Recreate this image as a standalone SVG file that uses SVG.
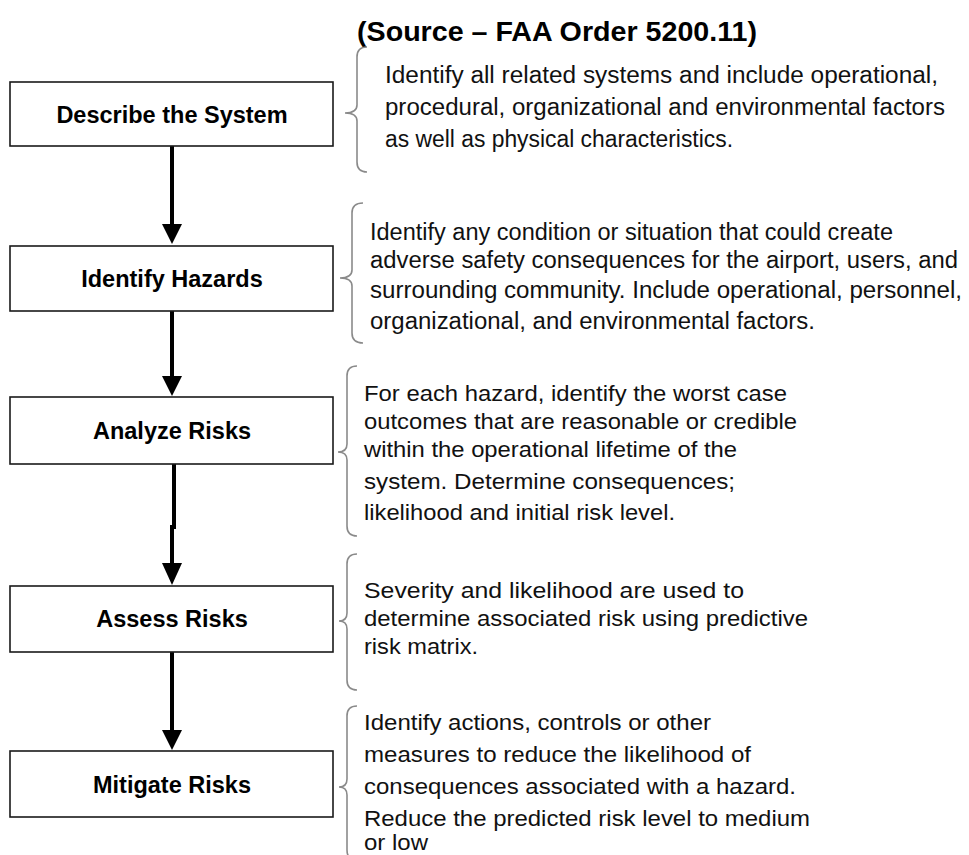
<svg xmlns="http://www.w3.org/2000/svg" width="969" height="855" viewBox="0 0 969 855">
  <style>
    .box { fill: #ffffff; stroke: #1a1a1a; stroke-width: 1.6; }
    .label { font-family: "Liberation Sans", Arial, sans-serif; font-weight: bold; font-size: 23.5px; fill: #000; text-anchor: middle; }
    .desc { font-family: "Liberation Sans", Arial, sans-serif; font-size: 22px; fill: #111; }
    .tall { font-size: 23px; }
    .brace { fill: none; stroke: #8a8a8a; stroke-width: 1.6; }
    .flow { fill: none; stroke: #000; stroke-width: 4; }
    .title { font-family: "Liberation Sans", Arial, sans-serif; font-weight: bold; font-size: 27px; fill: #000; }
  </style>

  <rect width="969" height="855" fill="#ffffff"/>

  <text class="title" x="357" y="41" textLength="400" lengthAdjust="spacingAndGlyphs">(Source – FAA Order 5200.11)</text>

  <!-- connectors between steps -->
  <g id="connectors">
    <path class="flow" d="M172,146 L172,226"/>
    <polygon points="162,224 182,224 172,244" fill="#000"/>
    <path class="flow" d="M172,311 L172,378"/>
    <polygon points="162,376 182,376 172,396" fill="#000"/>
    <path class="flow" d="M174,464 L174,527 L172,527 L172,565"/>
    <polygon points="162,563 182,563 172,585" fill="#000"/>
    <path class="flow" d="M172,652 L172,732"/>
    <polygon points="162,730 182,730 172,750" fill="#000"/>
  </g>

  <g id="describe-system">
    <rect class="box" x="10" y="82" width="323" height="64"/>
    <text class="label" x="172" y="123">Describe the System</text>
    <path class="brace" d="M367,47 Q357,47 357,57 L357,105 Q357,113 345,113 Q357,113 357,121 L357,162 Q357,172 367,172"/>
    <text class="desc tall">
      <tspan x="385" y="83" textLength="553" lengthAdjust="spacingAndGlyphs">Identify all related systems and include operational,</tspan>
      <tspan x="385" y="115" textLength="560" lengthAdjust="spacingAndGlyphs">procedural, organizational and environmental factors</tspan>
      <tspan x="385" y="147" textLength="348" lengthAdjust="spacingAndGlyphs">as well as physical characteristics.</tspan>
    </text>
  </g>

  <g id="identify-hazards">
    <rect class="box" x="10" y="246" width="323" height="65"/>
    <text class="label" x="172" y="287">Identify Hazards</text>
    <path class="brace" d="M363,203 Q352,203 352,213 L352,270 Q352,278 340,278 Q352,278 352,286 L352,333 Q352,343 363,343"/>
    <text class="desc tall">
      <tspan x="370" y="240" textLength="523" lengthAdjust="spacingAndGlyphs">Identify any condition or situation that could create</tspan>
      <tspan x="370" y="268" textLength="588" lengthAdjust="spacingAndGlyphs">adverse safety consequences for the airport, users, and</tspan>
      <tspan x="370" y="298" textLength="592" lengthAdjust="spacingAndGlyphs">surrounding community.  Include operational, personnel,</tspan>
      <tspan x="370" y="329" textLength="445" lengthAdjust="spacingAndGlyphs">organizational, and environmental factors.</tspan>
    </text>
  </g>

  <g id="analyze-risks">
    <rect class="box" x="10" y="397" width="323" height="67"/>
    <text class="label" x="172" y="439">Analyze Risks</text>
    <path class="brace" d="M357,366 Q347,366 347,376 L347,444 Q347,452 338,452 Q347,452 347,460 L347,526 Q347,536 357,536"/>
    <text class="desc">
      <tspan x="364" y="401" textLength="423" lengthAdjust="spacingAndGlyphs">For each hazard, identify the worst case</tspan>
      <tspan x="364" y="429" textLength="433" lengthAdjust="spacingAndGlyphs">outcomes that are reasonable or credible</tspan>
      <tspan x="364" y="457" textLength="373" lengthAdjust="spacingAndGlyphs">within the operational lifetime of the</tspan>
      <tspan x="364" y="489" textLength="371" lengthAdjust="spacingAndGlyphs">system.  Determine consequences;</tspan>
      <tspan x="364" y="520" textLength="311" lengthAdjust="spacingAndGlyphs">likelihood and initial risk level.</tspan>
    </text>
  </g>

  <g id="assess-risks">
    <rect class="box" x="10" y="586" width="323" height="66"/>
    <text class="label" x="172" y="627">Assess Risks</text>
    <path class="brace" d="M357,554 Q347,554 347,564 L347,613 Q347,621 339,621 Q347,621 347,629 L347,680 Q347,690 357,690"/>
    <text class="desc">
      <tspan x="364" y="598" textLength="380" lengthAdjust="spacingAndGlyphs">Severity and likelihood are used to</tspan>
      <tspan x="364" y="626" textLength="444" lengthAdjust="spacingAndGlyphs">determine associated risk using predictive</tspan>
      <tspan x="364" y="654" textLength="114" lengthAdjust="spacingAndGlyphs">risk matrix.</tspan>
    </text>
  </g>

  <g id="mitigate-risks">
    <rect class="box" x="10" y="751" width="323" height="66"/>
    <text class="label" x="172" y="793">Mitigate Risks</text>
    <path class="brace" d="M357,706 Q347,706 347,716 L347,779 Q347,787 339,787 Q347,787 347,795 L347,850 Q347,860 357,860"/>
    <text class="desc">
      <tspan x="364" y="730" textLength="347" lengthAdjust="spacingAndGlyphs">Identify actions, controls or other</tspan>
      <tspan x="364" y="762" textLength="387" lengthAdjust="spacingAndGlyphs">measures to reduce the likelihood of</tspan>
      <tspan x="364" y="794" textLength="432" lengthAdjust="spacingAndGlyphs">consequences associated with a hazard.</tspan>
      <tspan x="364" y="826" textLength="446" lengthAdjust="spacingAndGlyphs">Reduce the predicted risk level to medium</tspan>
      <tspan x="364" y="850" textLength="64" lengthAdjust="spacingAndGlyphs">or low</tspan>
    </text>
  </g>
</svg>
